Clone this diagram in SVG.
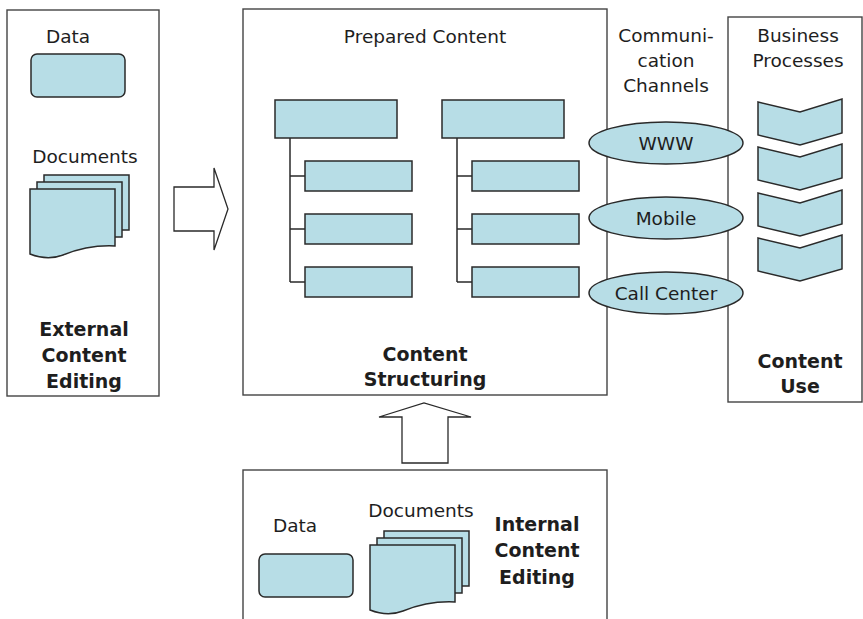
<svg xmlns="http://www.w3.org/2000/svg" width="863" height="619" viewBox="0 0 863 619">
<defs>
<style>
.frame{fill:#fff;stroke:#444;stroke-width:1.4}
.shape{fill:#b7dde6;stroke:#2a2a2a;stroke-width:1.5}
.line{fill:none;stroke:#2a2a2a;stroke-width:1.5}
.arrow{fill:#fff;stroke:#2a2a2a;stroke-width:1.3}
.t{font-family:"DejaVu Sans",Verdana,sans-serif;font-size:18.5px;fill:#1e1e1e;text-anchor:middle}
.b{font-family:"DejaVu Sans",Verdana,sans-serif;font-size:19px;font-weight:bold;fill:#1e1e1e;text-anchor:middle}
</style>
<g id="docstack">
<rect class="shape" x="44" y="175" width="85" height="55"/>
<rect class="shape" x="37" y="182" width="85" height="55"/>
<path class="shape" d="M30,189 H115 V246 C95,245 78,249 63,255 C50,260 40,258 30,254 Z"/>
</g>
<path id="chev" class="shape" d="M0,0 L42,10 L84,-3 L84,31 L42,43 L0,33 Z"/>
</defs>
<rect width="863" height="619" fill="#fff"/>

<g id="external">
<rect class="frame" x="7" y="10" width="152" height="386"/>
<text class="t" x="68" y="43">Data</text>
<rect class="shape" x="31" y="54" width="94" height="43" rx="6"/>
<text class="t" x="85" y="163">Documents</text>
<use href="#docstack"/>
<text class="b" x="84" y="336">External</text>
<text class="b" x="84" y="362">Content</text>
<text class="b" x="84" y="388">Editing</text>
</g>

<g id="structuring">
<rect class="frame" x="243" y="9" width="364" height="386"/>
<text class="t" x="425" y="43">Prepared Content</text>
<text class="b" x="425" y="361">Content</text>
<text class="b" x="425" y="386">Structuring</text>
</g>

<g id="internal">
<rect class="frame" x="243" y="470" width="364" height="160"/>
<text class="t" x="295" y="532">Data</text>
<rect class="shape" x="259" y="554" width="94" height="43" rx="6"/>
<text class="t" x="421" y="517">Documents</text>
<use href="#docstack" transform="translate(340,356)"/>
<text class="b" x="537" y="531">Internal</text>
<text class="b" x="537" y="557">Content</text>
<text class="b" x="537" y="584">Editing</text>
</g>

<g id="use">
<rect class="frame" x="728" y="17" width="134" height="385"/>
<text class="t" x="798" y="42">Business</text>
<text class="t" x="798" y="67">Processes</text>
<text class="b" x="800" y="368">Content</text>
<text class="b" x="800" y="393">Use</text>
</g>

<g id="processes">
<use href="#chev" transform="translate(758,102)"/>
<use href="#chev" transform="translate(758,147)"/>
<use href="#chev" transform="translate(758,193)"/>
<use href="#chev" transform="translate(758,238)"/>
</g>

<g id="channels-label">
<text class="t" x="666" y="42">Communi-</text>
<text class="t" x="666" y="67">cation</text>
<text class="t" x="666" y="92">Channels</text>
</g>

<g id="tree-left">
<rect class="shape" x="275" y="100" width="122" height="38"/>
<rect class="shape" x="305" y="161" width="107" height="30"/>
<rect class="shape" x="305" y="214" width="107" height="30"/>
<rect class="shape" x="305" y="267" width="107" height="30"/>
</g>
<g id="tree-right">
<rect class="shape" x="442" y="100" width="122" height="38"/>
<rect class="shape" x="472" y="161" width="107" height="30"/>
<rect class="shape" x="472" y="214" width="107" height="30"/>
<rect class="shape" x="472" y="267" width="107" height="30"/>
</g>

<g id="connectors">
<path class="line" d="M290,138 V282 M290,176 H305 M290,229 H305 M290,282 H305"/>
<path class="line" d="M457,138 V282 M457,176 H472 M457,229 H472 M457,282 H472"/>
<polygon class="arrow" points="174,187 214,187 214,168 228,209 214,250 214,231 174,231"/>
<polygon class="arrow" points="402,463 402,417 379,417 424,403 471,417 448,417 448,463"/>
</g>

<g id="www">
<ellipse class="shape" cx="666" cy="143" rx="77" ry="21"/>
<text class="t" x="666" y="150">WWW</text>
</g>
<g id="mobile">
<ellipse class="shape" cx="666" cy="218" rx="77" ry="21"/>
<text class="t" x="666" y="225">Mobile</text>
</g>
<g id="callcenter">
<ellipse class="shape" cx="666" cy="293" rx="77" ry="21"/>
<text class="t" x="666" y="300">Call Center</text>
</g>
</svg>
